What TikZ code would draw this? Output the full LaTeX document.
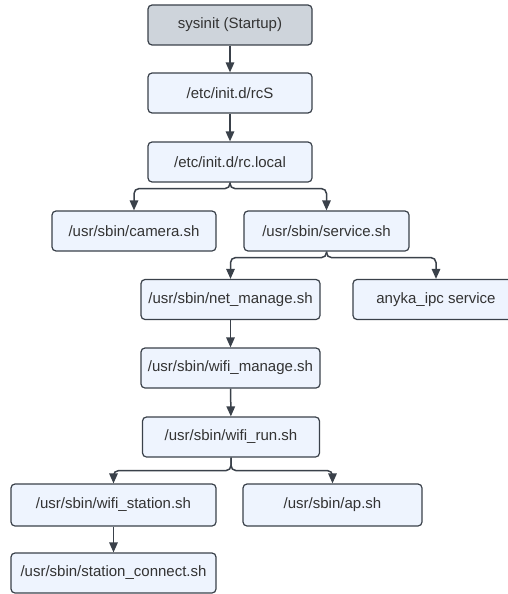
\documentclass[tikz,border=0pt]{standalone}
\usepackage{fontspec}
\setmainfont{Liberation Sans}
\usetikzlibrary{arrows.meta}
\definecolor{boxfill}{HTML}{EEF4FE}
\definecolor{startfill}{HTML}{CED4DB}
\definecolor{edge}{HTML}{3A414A}
\definecolor{txt}{HTML}{333333}
\tikzset{
  x=1pt, y=-1pt,
  box/.style={draw=edge, fill=boxfill, line width=1.2pt, rounded corners=4pt,
    minimum height=40pt, text=txt, font=\fontsize{15}{18}\selectfont, inner sep=0pt},
  link/.style={draw=edge, line width=1.5pt, rounded corners=5pt,
    -{Triangle[length=10pt,width=8.5pt]}},
}
\begin{document}
\begin{tikzpicture}
\useasboundingbox (0,0) rectangle (507,594);
\node[box, fill=startfill, minimum width=164pt] (sys) at (230,25) {sysinit (Startup)};
\node[box, minimum width=164pt] (rcs) at (230,93) {/etc/init.d/rcS};
\node[box, minimum width=164pt] (rcl) at (230,162) {/etc/init.d/rc.local};
\node[box, minimum width=164pt] (cam) at (134,231) {/usr/sbin/camera.sh};
\node[box, minimum width=165pt] (svc) at (326.5,231) {/usr/sbin/service.sh};
\node[box, minimum width=179pt] (net) at (230.5,299.5) {/usr/sbin/net\_manage.sh};
\node[box, minimum width=166pt] (any) at (436,299.5) {anyka\_ipc service};
\node[box, minimum width=179pt] (wman) at (230.5,368) {/usr/sbin/wifi\_manage.sh};
\node[box, minimum width=177pt] (wrun) at (231,437) {/usr/sbin/wifi\_run.sh};
\node[box, minimum width=205pt, minimum height=42pt] (wst) at (113.5,505) {/usr/sbin/wifi\_station.sh};
\node[box, minimum width=179pt, minimum height=42pt] (ap) at (332.5,505) {/usr/sbin/ap.sh};
\node[box, minimum width=205pt] (stc) at (113.5,573) {/usr/sbin/station\_connect.sh};

\draw[link] (sys) -- (rcs);
\draw[link] (rcs) -- (rcl);
\draw[link] (rcl.south) -- ++(0,6) -| (cam.north);
\draw[link] (rcl.south) -- ++(0,6) -| (svc.north);
\draw[link] (svc.south) -- ++(0,6) -| (net.north);
\draw[link] (svc.south) -- ++(0,6) -| (any.north);
\draw[link] (net) -- (wman);
\draw[link] (wman) -- (wrun);
\draw[link] (wrun.south) -- ++(0,13) -| (wst.north);
\draw[link] (wrun.south) -- ++(0,13) -| (ap.north);
\draw[link] (wst) -- (stc);
\end{tikzpicture}
\end{document}
